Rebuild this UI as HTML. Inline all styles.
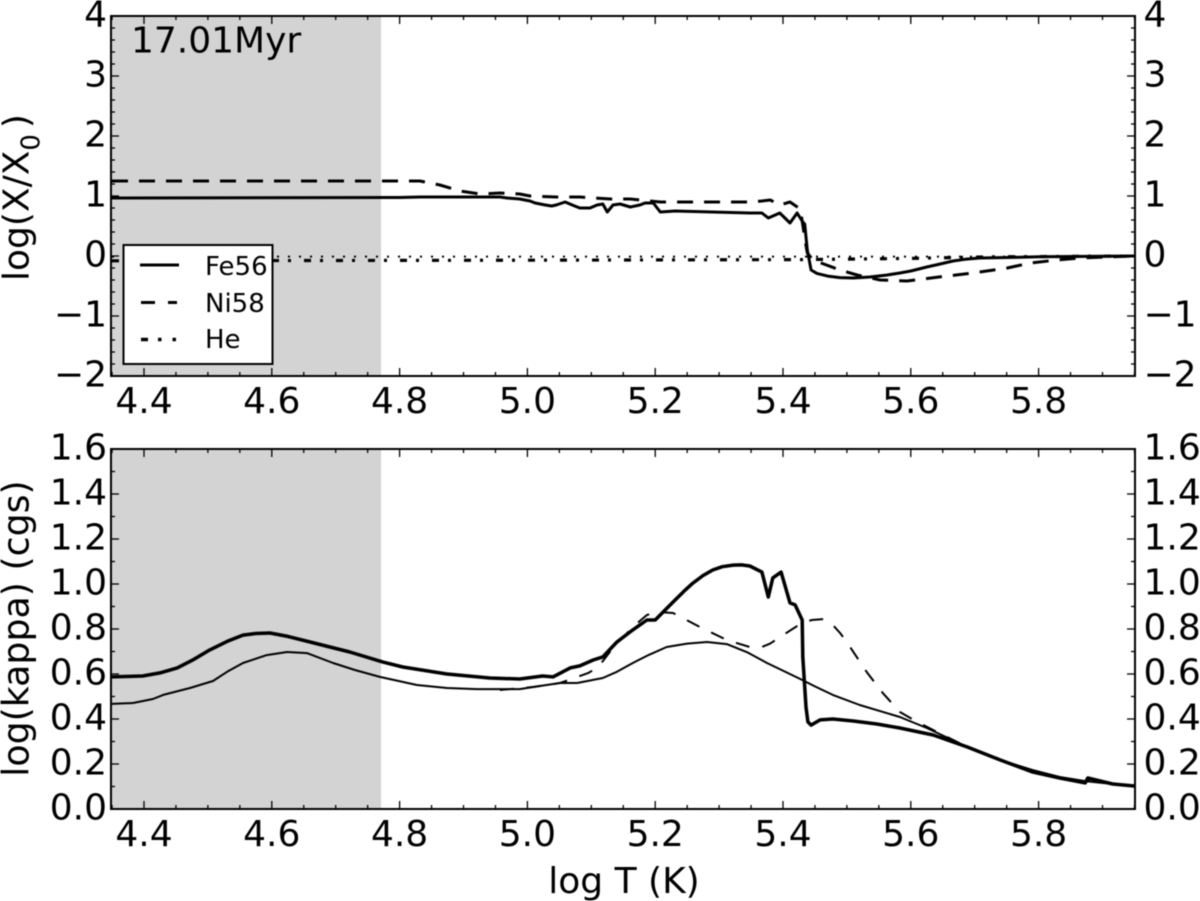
<!DOCTYPE html>
<html lang="en">
<head>
<meta charset="utf-8">
<title>Abundance and opacity vs temperature</title>
<style>
html,body{margin:0;padding:0;background:#fff;}
svg{display:block;filter:blur(0.45px);}
text{font-family:"DejaVu Sans","Liberation Sans",sans-serif;fill:#000;}
</style>
</head>
<body>
<svg id="chart" xmlns="http://www.w3.org/2000/svg" width="1200" height="901" viewBox="0 0 1200 901">
  <defs>
    <clipPath id="clip-top"><rect x="111" y="16" width="1024" height="360"/></clipPath>
    <clipPath id="clip-bottom"><rect x="111" y="449" width="1024" height="360"/></clipPath>
  </defs>
  <rect x="0" y="0" width="1200" height="901" fill="#fff"/>
  <g id="top-panel"></g>
  <g id="bottom-panel"></g>
  <text x="131" y="52.5" font-size="36">17.01Myr</text>
  <text transform="translate(28.5,281) rotate(-90)" text-anchor="start" font-size="36">log(X/X<tspan font-size="26" dy="11">0</tspan><tspan dx="6" dy="-11">)</tspan></text>
  <text transform="translate(28.5,628.5) rotate(-90)" text-anchor="middle" font-size="36.3">log(kappa) (cgs)</text>
  <text x="624" y="893" text-anchor="middle" font-size="36">log T (K)</text>
  <g>
    <rect x="123.5" y="245" width="149" height="119" fill="#fff" stroke="#000" stroke-width="2"/>
    <line x1="140" x2="179" y1="265" y2="265" stroke="#000" stroke-width="3"/>
    <text x="205" y="275" font-size="26">Fe56</text>
    <line x1="141" x2="177" y1="302.5" y2="302.5" stroke="#000" stroke-width="3" stroke-dasharray="14 13"/>
    <text x="205" y="312" font-size="26">Ni58</text>
    <line x1="141" x2="178" y1="339.5" y2="339.5" stroke="#000" stroke-width="3.5" stroke-dasharray="7 10 3.5 11 3.5 20"/>
    <text x="205" y="348" font-size="26">He</text>
  </g>
</svg>
<script>
// Shared x axis
const xMajorTicks = [4.4, 4.6, 4.8, 5.0, 5.2, 5.4, 5.6, 5.8];
const xMinorTicks = [4.35, 4.45, 4.5, 4.55, 4.65, 4.7, 4.75, 4.85, 4.9, 4.95, 5.05, 5.1, 5.15, 5.25, 5.3, 5.35, 5.45, 5.5, 5.55, 5.65, 5.7, 5.75, 5.85, 5.9, 5.95];
const xTickLabels = ['4.4', '4.6', '4.8', '5.0', '5.2', '5.4', '5.6', '5.8'];
const shadedRange = [4.35, 4.771];

// Top panel ticks
const topYMajor = [-2, -1, 0, 1, 2, 3, 4];
const topYMinor = [-1.8, -1.6, -1.4, -1.2, -0.8, -0.6, -0.4, -0.2, 0.2, 0.4, 0.6, 0.8, 1.2, 1.4, 1.6, 1.8, 2.2, 2.4, 2.6, 2.8, 3.2, 3.4, 3.6, 3.8];
const topYLabels = ['\u22122', '\u22121', '0', '1', '2', '3', '4'];

// Bottom panel ticks
const botYMajor = [0, 0.2, 0.4, 0.6, 0.8, 1.0, 1.2, 1.4, 1.6];
const botYMinor = [0.1, 0.3, 0.5, 0.7, 0.9, 1.1, 1.3, 1.5];
const botYLabels = ['0.0', '0.2', '0.4', '0.6', '0.8', '1.0', '1.2', '1.4', '1.6'];

// Top panel series
const feTopT = [4.35, 4.8, 4.832, 4.957, 4.968, 4.988, 5.004, 5.012, 5.028, 5.038, 5.045, 5.059, 5.074, 5.082, 5.098, 5.109, 5.118, 5.125, 5.134, 5.145, 5.161, 5.176, 5.184, 5.197, 5.208, 5.231, 5.348, 5.367, 5.377, 5.395, 5.411, 5.422, 5.431, 5.434, 5.438, 5.444, 5.453, 5.47, 5.489, 5.51, 5.536, 5.56, 5.583, 5.6, 5.625, 5.645, 5.666, 5.685, 5.708, 5.73, 5.751, 5.802, 5.95];
const feTopV = [0.967, 0.975, 0.983, 0.983, 0.967, 0.95, 0.917, 0.883, 0.85, 0.833, 0.85, 0.9, 0.833, 0.8, 0.8, 0.85, 0.867, 0.733, 0.85, 0.867, 0.817, 0.85, 0.883, 0.883, 0.733, 0.75, 0.717, 0.717, 0.633, 0.717, 0.55, 0.717, 0.567, 0.533, 0.1, -0.233, -0.29, -0.335, -0.36, -0.367, -0.35, -0.322, -0.283, -0.25, -0.183, -0.135, -0.083, -0.055, -0.033, -0.028, -0.025, -0.012, 0];

const niTopT = [4.35, 4.832, 4.863, 4.895, 4.926, 4.957, 4.988, 5.004, 5.045, 5.082, 5.13, 5.161, 5.208, 5.27, 5.348, 5.367, 5.38, 5.395, 5.411, 5.427, 5.431, 5.434, 5.438, 5.447, 5.489, 5.516, 5.552, 5.594, 5.657, 5.697, 5.751, 5.787, 5.829, 5.865, 5.95];
const niTopV = [1.25, 1.25, 1.183, 1.083, 1.033, 1.05, 1.033, 1.0, 0.983, 0.983, 0.95, 0.95, 0.9, 0.9, 0.9, 0.917, 0.933, 0.85, 0.9, 0.783, 0.517, 0.3, 0.05, -0.067, -0.233, -0.317, -0.4, -0.417, -0.333, -0.283, -0.2, -0.117, -0.067, -0.033, 0];

const heT = [4.35, 5.0, 5.43, 5.6, 5.72, 5.95];
const heV = [-0.08, -0.07, -0.06, -0.04, -0.015, 0];

const refT = [4.35, 5.95];
const refV = [-0.01, -0.01];

// Bottom panel series
const feBotT = [4.35, 4.398, 4.425, 4.452, 4.478, 4.503, 4.53, 4.555, 4.575, 4.597, 4.625, 4.66, 4.722, 4.774, 4.805, 4.874, 4.941, 4.988, 5.024, 5.04, 5.067, 5.082, 5.103, 5.118, 5.14, 5.165, 5.187, 5.2, 5.228, 5.245, 5.259, 5.275, 5.29, 5.305, 5.322, 5.335, 5.348, 5.367, 5.377, 5.384, 5.397, 5.411, 5.419, 5.43, 5.431, 5.436, 5.439, 5.444, 5.458, 5.478, 5.51, 5.547, 5.583, 5.635, 5.688, 5.74, 5.791, 5.833, 5.873, 5.877, 5.916, 5.95];
const feBotV = [0.587, 0.591, 0.605, 0.627, 0.665, 0.707, 0.745, 0.773, 0.78, 0.782, 0.767, 0.742, 0.698, 0.653, 0.631, 0.6, 0.582, 0.578, 0.591, 0.587, 0.627, 0.636, 0.662, 0.676, 0.742, 0.796, 0.84, 0.84, 0.92, 0.968, 1.004, 1.038, 1.062, 1.077, 1.084, 1.085, 1.08, 1.053, 0.942, 1.027, 1.053, 0.916, 0.907, 0.84, 0.676, 0.453, 0.387, 0.373, 0.396, 0.4, 0.391, 0.378, 0.36, 0.329, 0.276, 0.218, 0.164, 0.138, 0.116, 0.138, 0.111, 0.102];

const thinBotT = [4.35, 4.383, 4.414, 4.43, 4.472, 4.508, 4.53, 4.555, 4.592, 4.624, 4.655, 4.696, 4.73, 4.769, 4.827, 4.874, 4.921, 4.988, 5.009, 5.051, 5.078, 5.118, 5.14, 5.165, 5.19, 5.218, 5.25, 5.281, 5.312, 5.345, 5.375, 5.427, 5.45, 5.478, 5.52, 5.583, 5.625, 5.688, 5.74, 5.791, 5.833, 5.873, 5.916, 5.95];
const thinBotV = [0.467, 0.471, 0.489, 0.507, 0.538, 0.569, 0.61, 0.649, 0.684, 0.698, 0.693, 0.649, 0.618, 0.587, 0.551, 0.538, 0.533, 0.533, 0.542, 0.56, 0.56, 0.582, 0.61, 0.649, 0.685, 0.72, 0.735, 0.742, 0.733, 0.695, 0.649, 0.578, 0.545, 0.507, 0.462, 0.409, 0.36, 0.276, 0.218, 0.173, 0.142, 0.124, 0.111, 0.102];

const dashBotT = [4.957, 5.009, 5.051, 5.095, 5.111, 5.134, 5.165, 5.187, 5.203, 5.228, 5.27, 5.312, 5.348, 5.367, 5.38, 5.4, 5.427, 5.445, 5.463, 5.478, 5.49, 5.505, 5.531, 5.556, 5.583, 5.61, 5.635, 5.688];
const dashBotV = [0.529, 0.542, 0.56, 0.604, 0.631, 0.716, 0.809, 0.862, 0.876, 0.871, 0.809, 0.751, 0.72, 0.72, 0.735, 0.773, 0.822, 0.84, 0.844, 0.818, 0.78, 0.72, 0.609, 0.516, 0.431, 0.387, 0.351, 0.276];

const SVGNS = 'http://www.w3.org/2000/svg';
const xScale = t => 144 + (t - 4.4) * 639;
const topY = v => 16 + (4 - v) * 60;
const botY = v => 809 - v * 225;

function addLine(parent, name, x1, y1, x2, y2, width) {
  const el = document.createElementNS(SVGNS, 'line');
  
  
  el.setAttribute('x1', x1);
  el.setAttribute('y1', y1);
  el.setAttribute('x2', x2);
  el.setAttribute('y2', y2);
  el.setAttribute('stroke', '#000');
  el.setAttribute('stroke-width', width);
  parent.appendChild(el);
}

function addLabel(parent, name, x, y, str, anchor) {
  const el = document.createElementNS(SVGNS, 'text');
  
  
  el.setAttribute('x', x);
  el.setAttribute('y', y);
  el.setAttribute('font-size', '36');
  el.setAttribute('text-anchor', anchor);
  el.textContent = str;
  parent.appendChild(el);
}

function addSeries(parent, name, ts, vs, yFn, width, dash, clip) {
  const el = document.createElementNS(SVGNS, 'polyline');
  
  
  el.setAttribute('points', ts.map((t, i) => xScale(t).toFixed(1) + ',' + yFn(vs[i]).toFixed(1)).join(' '));
  el.setAttribute('fill', 'none');
  el.setAttribute('stroke', '#000');
  el.setAttribute('stroke-width', width);
  el.setAttribute('stroke-linejoin', 'round');
  if (dash) el.setAttribute('stroke-dasharray', dash);
  el.setAttribute('clip-path', 'url(#' + clip + ')');
  parent.appendChild(el);
}

function addShade(parent, yTop, yBottom) {
  const el = document.createElementNS(SVGNS, 'rect');
  
  
  el.setAttribute('x', xScale(shadedRange[0]));
  el.setAttribute('y', yTop);
  el.setAttribute('width', xScale(shadedRange[1]) - xScale(shadedRange[0]));
  el.setAttribute('height', yBottom - yTop);
  el.setAttribute('fill', '#d3d3d3');
  parent.appendChild(el);
}

function addAxes(parent, yFn, yTop, yBottom, yMajor, yMinor, yLabels) {
  const left = 111, right = 1135;
  xMajorTicks.forEach((t, i) => {
    const x = xScale(t);
    addLine(parent, 'x-major-tick', x, yBottom, x, yBottom - 8, 1.3);
    addLine(parent, 'x-major-tick-top', x, yTop, x, yTop + 8, 1.3);
    addLabel(parent, 'x-tick-label', x, yBottom + 37, xTickLabels[i], 'middle');
  });
  xMinorTicks.forEach(t => {
    const x = xScale(t);
    addLine(parent, 'x-minor-tick', x, yBottom, x, yBottom - 4, 1.3);
    addLine(parent, 'x-minor-tick-top', x, yTop, x, yTop + 4, 1.3);
  });
  yMajor.forEach((v, i) => {
    const y = yFn(v);
    addLine(parent, 'y-major-tick', left, y, left + 8, y, 1.3);
    addLine(parent, 'y-major-tick-right', right, y, right - 8, y, 1.3);
    addLabel(parent, 'y-tick-label-left', 107, y + 10.5, yLabels[i], 'end');
    addLabel(parent, 'y-tick-label-right', 1143.5, y + 10.5, yLabels[i], 'start');
  });
  yMinor.forEach(v => {
    const y = yFn(v);
    addLine(parent, 'y-minor-tick', left, y, left + 4, y, 1.3);
    addLine(parent, 'y-minor-tick-right', right, y, right - 4, y, 1.3);
  });
  const frame = document.createElementNS(SVGNS, 'rect');
  
  
  frame.setAttribute('x', left);
  frame.setAttribute('y', yTop);
  frame.setAttribute('width', right - left);
  frame.setAttribute('height', yBottom - yTop);
  frame.setAttribute('fill', 'none');
  frame.setAttribute('stroke', '#000');
  frame.setAttribute('stroke-width', 2);
  parent.appendChild(frame);
}

const topPanel = document.getElementById('top-panel');
addShade(topPanel, 16, 376);
addSeries(topPanel, 'reference-line-zero', refT, refV, topY, 2, '2 9', 'clip-top');
addSeries(topPanel, 'he-line', heT, heV, topY, 3.2, '7 9 3 13', 'clip-top');
addSeries(topPanel, 'ni58-line', niTopT, niTopV, topY, 3, '16 11', 'clip-top');
addSeries(topPanel, 'fe56-line', feTopT, feTopV, topY, 3, null, 'clip-top');
addAxes(topPanel, topY, 16, 376, topYMajor, topYMinor, topYLabels);

const bottomPanel = document.getElementById('bottom-panel');
addShade(bottomPanel, 449, 809);
addSeries(bottomPanel, 'thin-kappa-line', thinBotT, thinBotV, botY, 2, null, 'clip-bottom');
addSeries(bottomPanel, 'dashed-kappa-line', dashBotT, dashBotV, botY, 2, '14 13', 'clip-bottom');
addSeries(bottomPanel, 'thick-kappa-line', feBotT, feBotV, botY, 3.5, null, 'clip-bottom');
addAxes(bottomPanel, botY, 449, 809, botYMajor, botYMinor, botYLabels);
</script>
</body>
</html>
